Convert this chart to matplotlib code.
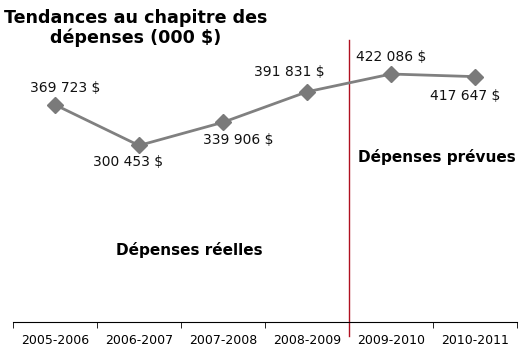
import matplotlib.pyplot as plt
import numpy as np

years = ['2005-2006', '2006-2007', '2007-2008', '2008-2009', '2009-2010', '2010-2011']
spending = [369723, 300453, 339906, 391831, 422086, 417647]
labels = ['369 723 $', '300 453 $', '339 906 $', '391 831 $', '422 086 $', '417 647 $']

fig = plt.figure(figsize=(5.28, 3.52), dpi=100)
ax = fig.add_axes([13/528, 1-322/352, 504/528, 282/352])

x = np.arange(len(years))
ax.plot(x, spending, color='#808080', lw=2, marker='D', ms=8, mfc='#7a7a7a', mec='#7a7a7a', zorder=3)

# label offsets in points (dx, dy)
offs = [(7, 12), (-8, -12), (11, -13), (-13, 14), (0, 12), (-7, -14)]
for xi, v, t, (dx, dy) in zip(x, spending, labels, offs):
    ax.annotate(t, (xi, v), xytext=(dx, dy), textcoords='offset points',
                ha='center', va='center', fontsize=10, color='#111111')

ax.set_xlim(-0.5, 5.5)
ax.set_ylim(0, 480000)

ax.axvline(3.5, ymin=-0.05, ymax=1, color='#b01020', lw=1, clip_on=False)

ax.text(1.6, 122500, 'Dépenses réelles', fontsize=11, fontweight='bold', ha='center', va='center')
ax.text(4.55, 281000, 'Dépenses prévues', fontsize=11, fontweight='bold', ha='center', va='center')

fig.text(136/528, 1-28/352, 'Tendances au chapitre des\ndépenses (000 $)',
         fontsize=12.6, fontweight='bold', ha='center', va='center', linespacing=1.15)

for s in ['top', 'right', 'left']:
    ax.spines[s].set_visible(False)
ax.set_yticks([])
ax.set_xticks(x)
ax.set_xticklabels(years, fontsize=9)
ax.tick_params(axis='x', which='major', length=0, pad=9)
ax.set_xticks(np.arange(-0.5, 6, 1), minor=True)
ax.tick_params(axis='x', which='minor', length=4, direction='out')

plt.savefig('out.png', dpi=100)
